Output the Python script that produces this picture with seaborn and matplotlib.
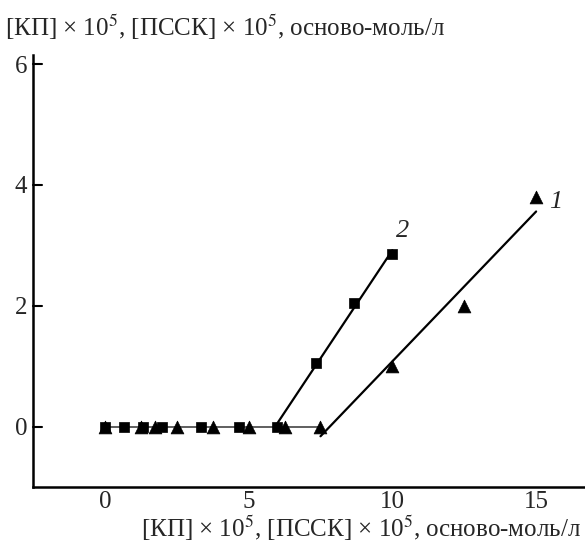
import numpy as np
import pandas as pd
import matplotlib
matplotlib.use("Agg")
import matplotlib.pyplot as plt
import seaborn as sns

# кривая 1 (треугольники) и кривая 2 (квадраты)
x1 = [0, 1.25, 1.75, 2.5, 3.75, 5.0, 6.25, 7.5, 10.0, 12.5, 15.0]
y1 = [0, 0, 0, 0, 0, 0, 0, 0, 1.0, 2.0, 3.8]
x2 = [0, 0.67, 1.33, 2.0, 3.33, 4.67, 6.0, 7.33, 8.67, 10.0]
y2 = [0, 0, 0, 0, 0, 0, 0, 1.05, 2.05, 2.85]

xticks = [0, 5, 10, 15]
yticks = [0, 2, 4, 6]
label_text = "[КП] × 10$^5$, [ПССК] × 10$^5$, осново-моль/л"

sns.set_style("white")
plt.rcParams['font.family'] = ['Liberation Serif', 'DejaVu Serif']
plt.rcParams['mathtext.fontset'] = 'stix'

df1 = pd.DataFrame({'x': x1, 'y': y1})
df2 = pd.DataFrame({'x': x2, 'y': y2})

fig = plt.figure(figsize=(5.85, 5.5), dpi=100)
ax = fig.add_axes([0.0564, 0.1145, 0.9436, 0.7855])

# горизонтальный участок
plateau = df1[df1.x <= 7.5]
sns.lineplot(data=plateau, x='x', y='y', ax=ax, color='#444444', linewidth=1.2)

# линейные участки
sns.regplot(data=df1[df1.x >= 7.5], x='x', y='y', ax=ax, scatter=False, ci=None,
            truncate=True, color='black', line_kws={'linewidth': 1.6})
sns.regplot(data=df2[df2.x >= 6.0], x='x', y='y', ax=ax, scatter=False, ci=None,
            truncate=True, color='black', line_kws={'linewidth': 1.6})

sns.scatterplot(data=df2, x='x', y='y', ax=ax, marker='s', s=55, color='black',
                edgecolor='black', linewidth=0.5, zorder=5)
sns.scatterplot(data=df1, x='x', y='y', ax=ax, marker='^', s=85, color='black',
                edgecolor='black', linewidth=0.5, zorder=6)

ax.text(15.45, 3.72, '1', fontsize=19, style='italic', va='center', ha='left')
ax.text(10.37, 3.23, '2', fontsize=19, style='italic', va='center', ha='center')

ax.set_xlim(-2.5, 16.7)
ax.set_ylim(-1.0, 6.15)
ax.set_xticks(xticks)
ax.set_yticks(yticks)
ax.tick_params(direction='in', length=8, width=1.5, labelsize=18, pad=3)
ax.tick_params(axis='y', direction='out', length=0, pad=4)
for s in ['top', 'right']:
    ax.spines[s].set_visible(False)
for s in ['left', 'bottom']:
    ax.spines[s].set_linewidth(1.8)
    ax.spines[s].set_color('black')

# засечки на оси y направлены вправо
for t in yticks:
    ax.plot([-2.5, -2.5 + 0.3], [t, t], color='black', linewidth=1.5, clip_on=False)

ax.set_xlabel('')
ax.set_ylabel('')
fig.text(0.993, 0.040, label_text, fontsize=18, ha='right', va='center')
fig.text(0.008, 0.950, label_text, fontsize=18, ha='left', va='center')

fig.savefig('out.png', dpi=100)
